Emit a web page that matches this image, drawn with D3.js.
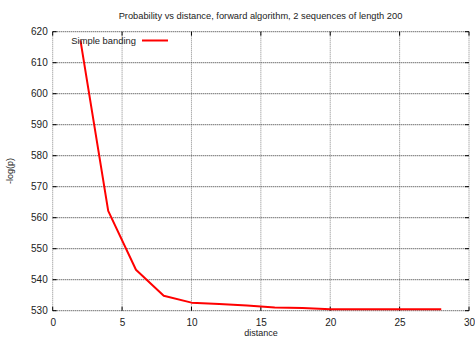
<!DOCTYPE html>
<html>
<head>
<meta charset="utf-8">
<script src="https://cdn.jsdelivr.net/npm/d3@7"></script>
<style>
  html, body { margin: 0; padding: 0; background: #fff; }
  svg { display: block; font-family: "Liberation Sans", Arial, sans-serif; }
</style>
</head>
<body>
<svg id="chart" width="475" height="337"></svg>
<script>
// Banding distance vs. negative log-probability
const distance = [2, 4, 6, 8, 10, 12, 14, 16, 18, 20, 22, 24, 26, 28];
const negLogP  = [617.2, 562.2, 543.2, 534.8, 532.6, 532.2, 531.7, 531.0, 530.9, 530.5, 530.5, 530.5, 530.5, 530.5];
const xTicks = [0, 5, 10, 15, 20, 25, 30];
const yTicks = [530, 540, 550, 560, 570, 580, 590, 600, 610, 620];
const seriesName = "Simple banding";
const titleText = "Probability vs distance, forward algorithm, 2 sequences of length 200";

const svg = d3.select("#chart");
const m = { left: 52.7, right: 469, top: 31.7, bottom: 310.7 };

const x = d3.scaleLinear().domain([0, 30]).range([m.left, m.right]);
const y = d3.scaleLinear().domain([530, 620]).range([m.bottom, m.top]);

// grid lines
const grid = svg.append("g");
grid.selectAll("line.vx").data(xTicks).join("line")
  .attr("x1", d => x(d)).attr("x2", d => x(d))
  .attr("y1", m.top).attr("y2", m.bottom)
  .attr("stroke", "#888").attr("stroke-width", 1)
  .attr("stroke-dasharray", "1,1");
grid.selectAll("line.hy").data(yTicks).join("line")
  .attr("x1", m.left).attr("x2", m.right)
  .attr("y1", d => y(d)).attr("y2", d => y(d))
  .attr("stroke", "#333").attr("stroke-width", 1)
  .attr("stroke-dasharray", "1,1");

// tick marks, inward on all four sides
const tk = svg.append("g").attr("stroke", "#000").attr("stroke-width", 1);
xTicks.forEach(d => {
  tk.append("line").attr("x1", x(d)).attr("x2", x(d)).attr("y1", m.bottom).attr("y2", m.bottom - 4);
  tk.append("line").attr("x1", x(d)).attr("x2", x(d)).attr("y1", m.top).attr("y2", m.top + 4);
});
yTicks.forEach(d => {
  tk.append("line").attr("x1", m.left).attr("x2", m.left + 4).attr("y1", y(d)).attr("y2", y(d));
  tk.append("line").attr("x1", m.right).attr("x2", m.right - 4).attr("y1", y(d)).attr("y2", y(d));
});

// axis labels via d3 axes (domain and tick lines hidden)
const xAxis = svg.append("g").attr("transform", `translate(0,${m.bottom})`)
  .call(d3.axisBottom(x).tickValues(xTicks).tickSize(0).tickPadding(8).tickFormat(d3.format("d")));
xAxis.select(".domain").remove();
xAxis.selectAll("text").attr("font-size", 10).attr("fill", "#222")
  .attr("font-family", "Liberation Sans, Arial, sans-serif");

const yAxis = svg.append("g").attr("transform", `translate(${m.left},0)`)
  .call(d3.axisLeft(y).tickValues(yTicks).tickSize(0).tickPadding(5).tickFormat(d3.format("d")));
yAxis.select(".domain").remove();
yAxis.selectAll("text").attr("font-size", 10).attr("fill", "#222")
  .attr("font-family", "Liberation Sans, Arial, sans-serif");

// data line
svg.append("path")
  .datum(distance.map((d, i) => [d, negLogP[i]]))
  .attr("fill", "none").attr("stroke", "#ff0000").attr("stroke-width", 2)
  .attr("stroke-linejoin", "round")
  .attr("d", d3.line().x(d => x(d[0])).y(d => y(d[1])));

// legend
svg.append("text").attr("x", 136).attr("y", 43.5).attr("text-anchor", "end")
  .attr("font-size", 9.4).attr("fill", "#222").text(seriesName);
svg.append("line").attr("x1", 142).attr("x2", 168).attr("y1", 40.5).attr("y2", 40.5)
  .attr("stroke", "#ff0000").attr("stroke-width", 2);

// title and axis titles
svg.append("text").attr("x", 260.5).attr("y", 19).attr("text-anchor", "middle")
  .attr("font-size", 9.3).attr("fill", "#222").text(titleText);
svg.append("text").attr("x", 261).attr("y", 336).attr("text-anchor", "middle")
  .attr("font-size", 9).attr("fill", "#222").text("distance");
svg.append("text").attr("transform", "translate(13,171) rotate(-90)")
  .attr("text-anchor", "middle").attr("font-size", 9).attr("fill", "#222").text("-log(p)");
</script>
</body>
</html>
